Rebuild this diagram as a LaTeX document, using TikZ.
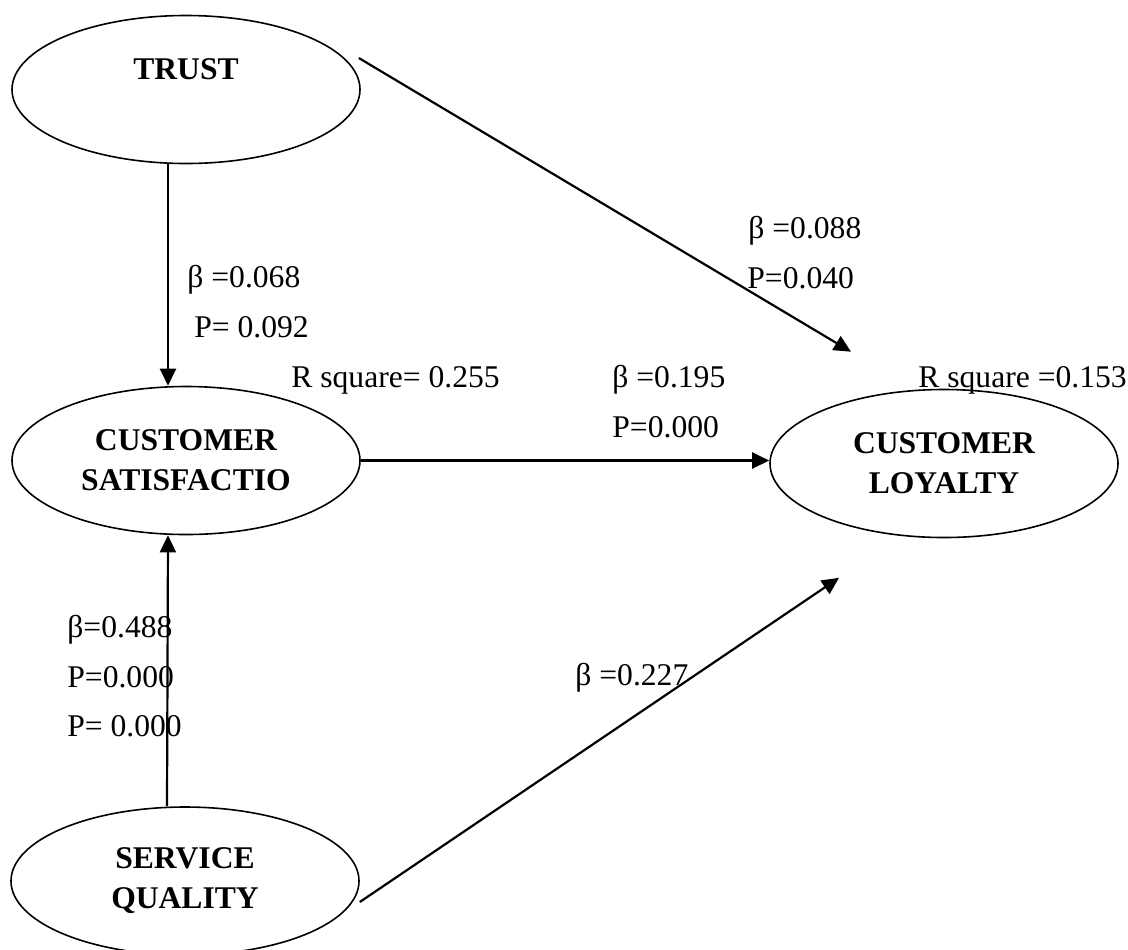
\documentclass[tikz,border=0pt]{standalone}
\usepackage{fontspec}
\setmainfont{Liberation Serif}
\usetikzlibrary{shapes.geometric,arrows.meta}

\begin{document}
\begin{tikzpicture}[x=0.5pt,y=-0.5pt,
        latent/.style={draw=black,line width=0.8pt,ellipse,inner sep=0pt,minimum width=174pt,minimum height=74pt,align=center,font=\fontsize{15.8}{20}\selectfont\bfseries},
        coef/.style={inner sep=0pt,anchor=base west,font=\fontsize{15.8}{19}\selectfont},
        link/.style={line width=1.1pt,-{Triangle[length=8.5pt,width=8pt]}}]
            \useasboundingbox (0,0) rectangle (1128,949);

            \node[latent] (trust) at (186,89.5) {TRUST\\ ~};
            \node[latent] (sat) at (186,460.5) {CUSTOMER\\SATISFACTIO};
            \node[latent] (serv) at (185,881) {SERVICE\\QUALITY};
            \node[latent] (loyal) at (944,463.5) {CUSTOMER\\LOYALTY};

            \path [link] ([xshift=-9pt]trust.south) edge ([xshift=-9pt]sat.north);
            \path [link] ([xshift=-9pt]serv.north) edge ([xshift=-9pt]sat.south);
            \path [link] (sat.east) edge (loyal.west |- sat.east);
            \path [link] ([shift={(-2,-31.5)}]trust.east) edge ([shift={(-93,-37)}]loyal.north);
            \path [link] ([shift={(0,21)}]serv.east) edge ([shift={(-105,39.5)}]loyal.south);

            \node[coef] (b1) at (187,287) {β =0.068};
            \node[coef] (p1) at (194,337) {P= 0.092};
            \node[coef] (r1) at (291,387) {R square= 0.255};
            \node[coef] (b2) at (748,238) {β =0.088};
            \node[coef] (p2) at (747,288) {P=0.040};
            \node[coef] (b3) at (612,387) {β =0.195};
            \node[coef] (p3) at (612,437) {P=0.000};
            \node[coef] (r2) at (918,387) {R square =0.153};
            \node[coef] (b4) at (67,637) {β=0.488};
            \node[coef] (p4) at (67,687) {P=0.000};
            \node[coef] (p5) at (67,736) {P= 0.000};
            \node[coef] (b5) at (575,685) {β =0.227};
        \end{tikzpicture}
\end{document}
